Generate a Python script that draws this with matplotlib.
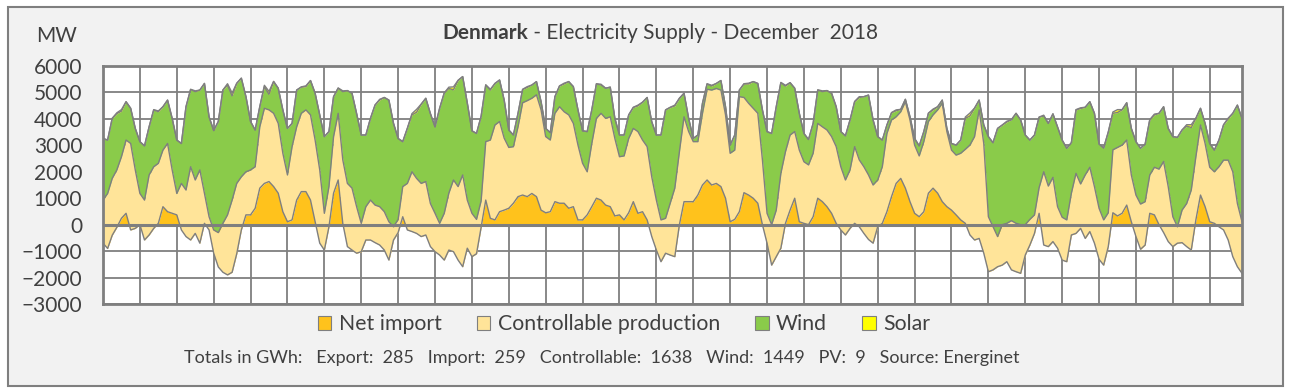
import numpy as np
import matplotlib.pyplot as plt
from matplotlib.patches import Patch, Rectangle

plt.rcParams['font.family'] = ['Lato', 'DejaVu Sans']

# 3-hourly values in MW (00, 03, ... 21 h), 1-31 December 2018
net_import = [
    -700, -900, -400, -100, 240, 430, -200, -140,
    0, -580, -390, -140, 50, 680, 490, 430,
    370, -200, -450, -580, -330, -700, 50, -200,
    -1080, -1600, -1800, -1900, -1800, -1100, -200, 370,
    370, 620, 1380, 1560, 1630, 1440, 1190, 490,
    110, 180, 930, 1250, 1250, 930, 110, -700,
    -960, -80, 1190, 1690, 50, -830, -960, -1080,
    -1020, -580, -580, -680, -770, -960, -1340, -580,
    -300, 300, -200, -260, -330, -450, -390, -830,
    -1020, -1150, -1340, -960, -1020, -1340, -1590, -890,
    -1210, -1100, -100, 930, 240, 180, 490, 550,
    620, 810, 1060, 1120, 1060, 1180, 1060, 550,
    450, 490, 870, 810, 810, 620, 680, 180,
    180, 370, 680, 1000, 930, 740, 680, 330,
    370, 180, 450, 870, 430, 490, 180, -450,
    -960, -1400, -1080, -1150, -1210, 0, 870, 870,
    870, 1120, 1500, 1690, 1500, 1560, 1440, 1000,
    110, 200, 490, 1210, 1120, 1000, 810, 0,
    -700, -1530, -1210, -890, 50, 550, 1000, 110,
    50, 0, 300, 1000, 870, 680, 430, 50,
    -200, -390, -140, 50, -80, -330, -560, -700,
    -80, 50, 490, 1060, 1560, 1750, 1380, 870,
    430, 300, 490, 1190, 1380, 1190, 870, 680,
    550, 370, 180, 50, -390, -580, -520, -1080,
    -1780, -1710, -1590, -1530, -1400, -1710, -1780, -1840,
    -1150, -770, -330, 430, -770, -830, -640, -890,
    -1340, -1400, -390, -330, -140, -520, -260, -700,
    -1310, -1530, -830, 450, 330, 430, 740, 110,
    -450, -930, -770, 430, 370, 0, -300, -640,
    -830, -700, -680, -830, -960, 180, 1120, 680,
    110, 50, -80, -200, -580, -1210, -1590, -1840,
]

controllable = [
    1630, 2080, 2150, 2170, 2330, 2770, 3270, 2210,
    1180, 1510, 2270, 2330, 2270, 2140, 2580, 1640,
    810, 1760, 1760, 2770, 2020, 2770, 1130, 500,
    880, 1300, 1850, 2270, 2730, 2660, 2010, 1630,
    1700, 1570, 2320, 2840, 2710, 2770, 2640, 2210,
    1770, 2770, 2770, 2960, 3090, 3220, 3090, 2770,
    1390, 1520, 2140, 2520, 2400, 2390, 2340, 1760,
    1070, 1260, 1510, 1420, 1450, 1450, 1450, 500,
    500, 1140, 1760, 2260, 2080, 2010, 2020, 1630,
    1450, 1200, 1770, 2150, 2710, 2780, 3470, 1820,
    1640, 1300, 1000, 2210, 2960, 3590, 3410, 2720,
    2300, 2140, 2640, 3490, 3630, 3600, 3850, 3790,
    2880, 2710, 3340, 3650, 3460, 3530, 3150, 2830,
    2140, 1630, 2390, 3020, 3280, 3280, 3400, 2930,
    2200, 2420, 2810, 2770, 3090, 2710, 2770, 2260,
    1890, 1580, 1320, 1960, 2590, 2760, 3210, 2650,
    2270, 2020, 2710, 3430, 3590, 3590, 3650, 3150,
    2590, 2620, 4350, 3600, 3470, 3400, 3400, 2450,
    1130, 1530, 1760, 2830, 2710, 2840, 2520, 2710,
    2330, 2260, 2400, 2830, 2830, 2900, 2900, 2900,
    2390, 2080, 2210, 2900, 2530, 2520, 2440, 2200,
    1770, 2140, 2960, 2900, 2520, 2520, 3270, 3090,
    2580, 2300, 2650, 2710, 2770, 3150, 3720, 2840,
    2270, 2260, 2520, 2800, 3400, 3910, 4860, 4150,
    2080, 1630, 1140, 1530, 1450, 1860, 1830, 1840,
    1150, 970, 700, 970, 2770, 2290, 2430, 1570,
    1620, 1580, 1580, 2270, 1680, 2400, 2430, 2140,
    1930, 1710, 1280, 2380, 2590, 2580, 2460, 1770,
    1570, 1710, 1640, 1450, 1800, 2100, 2690, 2080,
    1130, 620, 1230, 1630, 2270, 2390, 2650, 2390,
    2060, 1950, 2270, 2640, 3020, 3210, 2390, 1950,
]

wind = [
    2330, 2020, 2270, 2130, 1720, 1450, 1330, 1570,
    1960, 2050, 1820, 2150, 1950, 1640, 1640, 1950,
    2020, 1510, 3150, 2920, 3340, 3020, 4160, 3780,
    3760, 4200, 5040, 4910, 3940, 3780, 3730, 2840,
    1830, 1390, 760, 820, 590, 1200, 1330, 1640,
    1760, 880, 1390, 990, 880, 1300, 1770, 2080,
    2900, 2080, 1510, 950, 2580, 3510, 3590, 3520,
    3340, 2710, 3090, 3780, 4030, 4320, 4600, 3910,
    3060, 1700, 2080, 2150, 2500, 2990, 3150, 3400,
    3270, 4350, 4550, 3960, 3410, 4010, 3720, 3670,
    3120, 3250, 3200, 2140, 1890, 1570, 1570, 1440,
    660, 440, 510, 500, 500, 500, 500, 310,
    310, 280, 630, 780, 1050, 1260, 1390, 1330,
    1230, 1520, 1270, 1300, 1070, 1140, 1120, 760,
    820, 790, 890, 790, 970, 1430, 1860, 2080,
    2460, 3210, 4100, 3620, 3110, 2020, 890, 500,
    120, 250, 380, 200, 150, 190, 360, 310,
    310, 570, 250, 510, 730, 1010, 1130, 1890,
    3090, 3450, 3910, 3430, 2480, 1980, 1640, 1390,
    1070, 960, 1130, 1260, 1330, 1490, 1640, 1510,
    1330, 1670, 1890, 1700, 2360, 2650, 3020, 2460,
    1640, 1010, 320, 270, 230, 90, 90, 120,
    250, 380, 380, 310, 190, 120, 120, 120,
    250, 380, 500, 1170, 1100, 1070, 370, 700,
    3030, 3180, 4090, 3760, 3830, 3820, 4160, 3960,
    3390, 3000, 3020, 2660, 2110, 2370, 2400, 3020,
    2920, 2710, 1910, 2400, 2850, 2560, 2480, 2770,
    2430, 2720, 3050, 1380, 1320, 1330, 1410, 1760,
    2020, 2110, 2180, 2080, 1980, 2110, 2070, 2200,
    3030, 3380, 3030, 2930, 2360, 1450, 630, 760,
    900, 820, 1010, 1330, 1560, 2210, 3720, 3910,
]

solar = [
    0, 0, 0, 30, 60, 0, 0, 0,
    0, 0, 0, 10, 30, 0, 0, 0,
    0, 0, 0, 10, 30, 0, 0, 0,
    0, 0, 0, 50, 110, 10, 0, 0,
    0, 0, 0, 50, 110, 10, 0, 0,
    0, 0, 0, 10, 30, 0, 0, 0,
    0, 0, 0, 10, 30, 0, 0, 0,
    0, 0, 0, 10, 30, 0, 0, 0,
    0, 0, 0, 50, 110, 10, 0, 0,
    0, 0, 0, 50, 110, 10, 0, 0,
    0, 0, 0, 10, 30, 0, 0, 0,
    0, 0, 0, 10, 30, 0, 0, 0,
    0, 0, 0, 10, 30, 0, 0, 0,
    0, 0, 0, 10, 30, 0, 0, 0,
    0, 0, 0, 10, 30, 0, 0, 0,
    0, 0, 0, 10, 30, 0, 0, 0,
    0, 0, 0, 10, 30, 0, 0, 0,
    0, 0, 0, 10, 30, 0, 0, 0,
    0, 0, 0, 10, 30, 0, 0, 0,
    0, 0, 0, 10, 30, 0, 0, 0,
    0, 0, 0, 10, 30, 0, 0, 0,
    0, 0, 0, 10, 30, 0, 0, 0,
    0, 0, 0, 10, 30, 0, 0, 0,
    0, 0, 0, 50, 110, 10, 0, 0,
    0, 0, 0, 10, 30, 0, 0, 0,
    0, 0, 0, 10, 30, 0, 0, 0,
    0, 0, 0, 10, 30, 0, 0, 0,
    0, 0, 0, 50, 110, 10, 0, 0,
    0, 0, 0, 10, 30, 0, 0, 0,
    0, 0, 0, 50, 110, 10, 0, 0,
    0, 0, 0, 10, 30, 0, 0, 0,
]

labels = ['Net import', 'Controllable production', 'Wind', 'Solar']
colors = ['#FFC21C', '#FFE499', '#8ACB4A', '#FFFF00']
footer = ('Totals in GWh:   Export:  285   Import:  259   Controllable:  1638   '
          'Wind:  1449   PV:  9   Source: Energinet')

grey = '#7f7f7f'
txt = '#404040'

hours = np.arange(len(net_import)) * 3
s0 = np.array(net_import, dtype=float)
s1 = s0 + np.array(controllable)
s2 = s1 + np.array(wind)
s3 = s2 + np.array(solar)

fig = plt.figure(figsize=(12.91, 3.91), dpi=100)
fig.add_artist(Rectangle((8 / 1291, 1 - 386 / 391), 1275 / 1291, 379 / 391,
                         transform=fig.transFigure, facecolor='#f2f2f2',
                         edgecolor=grey, lw=1.5, zorder=0))

ax = fig.add_axes([103 / 1291, 1 - 304 / 391, 1139 / 1291, 238 / 391])
ax.set_facecolor('white')

# stacked areas, drawn in order like a stacked area chart
ax.fill_between(hours, 0, s0, color=colors[0], lw=0, zorder=2)
ax.fill_between(hours, s0, s1, color=colors[1], lw=0, zorder=2)
ax.fill_between(hours, s1, s2, color=colors[2], lw=0, zorder=2)
ax.fill_between(hours, s2, s3, color=colors[3], lw=0, zorder=2)
for s in (s0, s1, s2, s3):
    ax.plot(hours, s, color=grey, lw=1, zorder=3)
ax.axhline(0, color=grey, lw=2.2, zorder=4)

ax.set_xlim(0, hours[-1])
ax.set_ylim(-3000, 6000)
ax.set_yticks(np.arange(-3000, 6001, 1000))
ax.set_xticks(np.arange(0, hours[-1], 24))
ax.set_xticklabels([])
ax.grid(True, color=grey, lw=1.3, zorder=1)
ax.set_axisbelow(True)
ax.tick_params(axis='both', length=0)
ax.tick_params(axis='y', pad=15, labelsize=15, labelcolor=txt)
for sp in ax.spines.values():
    sp.set_color(grey)
    sp.set_linewidth(2)

fig.text(57 / 1291, 1 - 36 / 391, 'MW', ha='center', va='center',
         fontsize=15, color=txt)

t1 = fig.text(442 / 1291, 1 - 33 / 391, 'Denmark', ha='left', va='center',
              fontsize=15, fontweight='bold', color=txt)
ax.annotate(' - Electricity Supply - December  2018', xy=(1, 0), xycoords=t1,
            ha='left', va='bottom', fontsize=15, color=txt)

handles = [Patch(facecolor=c, edgecolor=grey, lw=0.8) for c in colors]
fig.legend(handles, labels, ncol=4, loc='center',
           bbox_to_anchor=(624 / 1291, 1 - 324 / 391), frameon=False,
           fontsize=15.3, handlelength=0.64, handleheight=0.64,
           handletextpad=0.35, columnspacing=1.65, labelcolor=txt)

fig.text(602 / 1291, 1 - 358 / 391, footer, ha='center', va='center',
         fontsize=13, color=txt)

fig.savefig('out.png', dpi=100, facecolor='white')
